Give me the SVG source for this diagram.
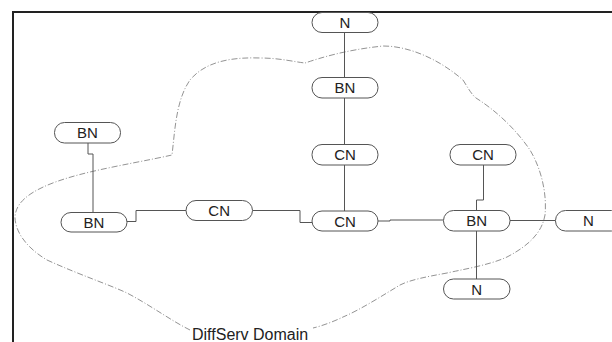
<svg xmlns="http://www.w3.org/2000/svg" width="612" height="342" viewBox="0 0 612 342">
<style>
.node rect{fill:#fff;stroke:#555;stroke-width:1}
.node text{font-family:"Liberation Sans",Arial,sans-serif;font-size:15px;fill:#222;text-anchor:middle}
.conn{fill:none;stroke:#555;stroke-width:1}
.cloud{fill:none;stroke:#777;stroke-width:0.8;stroke-dasharray:6 2 1 2}
.lbl{font-family:"Liberation Sans",Arial,sans-serif;font-size:16px;fill:#222}
</style>
<rect x="0" y="0" width="612" height="342" fill="#fff"/>
<path d="M13,342 V12 H612" fill="none" stroke="#222" stroke-width="2"/>
<path class="cloud" d="M190,330 C170,320 150,305 127,293 C110,285 80,275 47,260 C30,250 16,235 15,218 C15,200 35,185 90,172 C120,165 150,160 172,155 C175,130 176,100 190,80 C205,62 230,57 260,58 C280,58 295,62 305,63 C320,58 345,50 383,46 C410,46 440,60 463,80 C468,88 472,95 476,98 C495,110 515,128 530,150 C542,170 547,195 545,215 C542,232 530,245 507,257 C490,265 460,270 447,273 C425,277 410,280 400,285 C385,294 360,310 343,317 C335,321 322,326 313,328"/>
<text class="lbl" x="192" y="340">DiffServ Domain</text>
<g id="connectors">
<path class="conn" d="M344.5,32.5 V77.5"/>
<path class="conn" d="M344.5,98 V144.5"/>
<path class="conn" d="M344.5,165 V211"/>
<path class="conn" d="M88,143 V154 H93 V212.5"/>
<path class="conn" d="M127,221.5 H136 V210.5 H186"/>
<path class="conn" d="M252.5,210.5 H300 V222.5 H312"/>
<path class="conn" d="M378,221 H390 V220 H443.5"/>
<path class="conn" d="M483.5,165 V200 H476.5 V210.5"/>
<path class="conn" d="M510,220.5 H555.5"/>
<path class="conn" d="M476.5,231 V279"/>
</g>
<g id="n-top" class="node"><rect x="312" y="12.5" width="66" height="20" rx="10"/><text x="345" y="28">N</text></g>
<g id="bn-top" class="node"><rect x="312" y="77.5" width="66" height="20.5" rx="10"/><text x="345" y="93.3">BN</text></g>
<g id="cn-upper" class="node"><rect x="312" y="144.5" width="66" height="20.5" rx="10"/><text x="345" y="160.3">CN</text></g>
<g id="cn-center" class="node"><rect x="312" y="211" width="66" height="20" rx="10"/><text x="345" y="226.5">CN</text></g>
<g id="bn-topleft" class="node"><rect x="54.5" y="122.5" width="66" height="20.5" rx="10"/><text x="87.5" y="138.3">BN</text></g>
<g id="bn-left" class="node"><rect x="61" y="212.5" width="66" height="19.5" rx="10"/><text x="94" y="227.8">BN</text></g>
<g id="cn-mid" class="node"><rect x="186" y="200.5" width="66.5" height="20" rx="10"/><text x="219.2" y="216">CN</text></g>
<g id="cn-righttop" class="node"><rect x="450" y="144.5" width="66" height="20.5" rx="10"/><text x="483" y="160.3">CN</text></g>
<g id="bn-right" class="node"><rect x="443.5" y="210.5" width="66.5" height="20.5" rx="10"/><text x="476.7" y="226.3">BN</text></g>
<g id="n-right" class="node"><rect x="555.5" y="210.5" width="66" height="20.5" rx="10"/><text x="588.5" y="226.3">N</text></g>
<g id="n-bottom" class="node"><rect x="443.5" y="279" width="66.5" height="20" rx="10"/><text x="476.7" y="294.5">N</text></g>
</svg>
